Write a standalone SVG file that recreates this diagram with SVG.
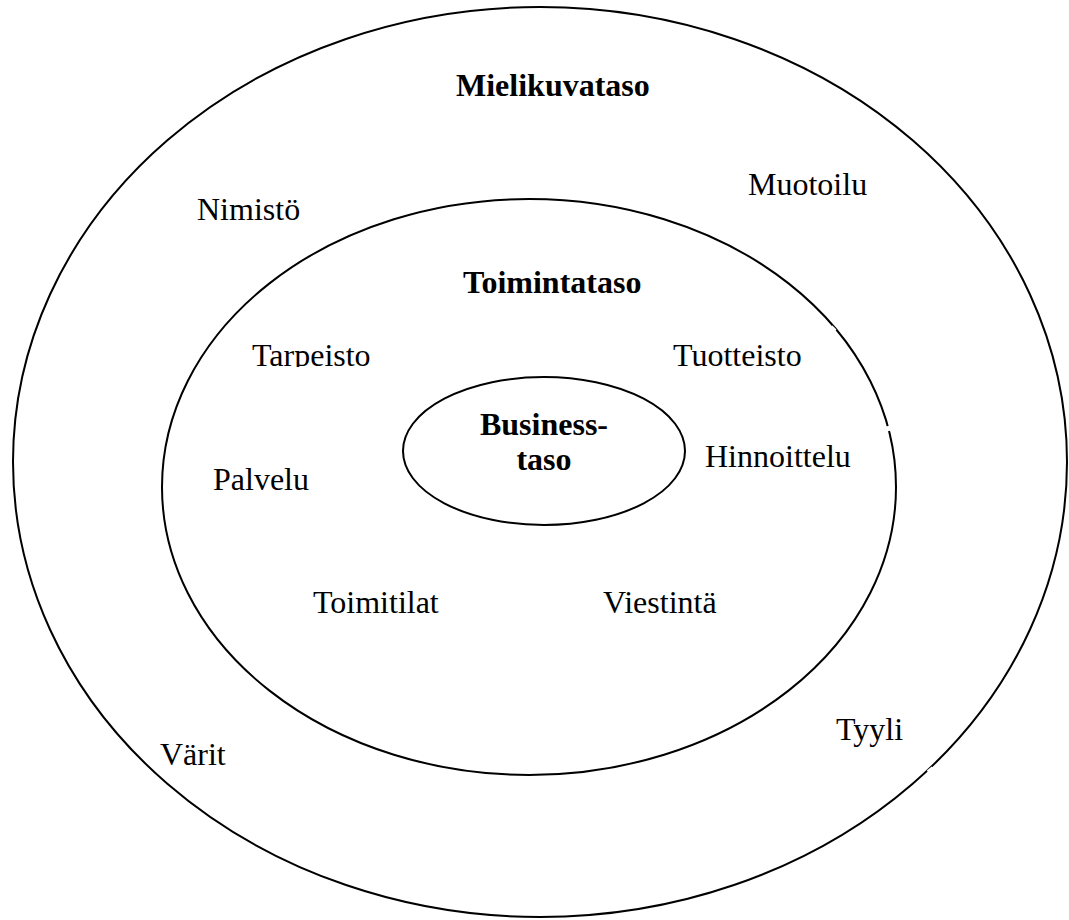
<svg xmlns="http://www.w3.org/2000/svg" width="1069" height="920" viewBox="0 0 1069 920">
<style>
.e{fill:none;stroke:#000;stroke-width:2}
.t{font-family:"Liberation Serif","Times New Roman",serif;font-size:32px;fill:#000}
.b{font-weight:bold}
.g{stroke:#fff;stroke-width:4}
</style>
<defs>
<clipPath id="clipTar"><rect x="240" y="330" width="180" height="37"/></clipPath>
</defs>
<rect width="1069" height="920" fill="#fff"/>
<g id="outer">
<ellipse class="e" cx="540" cy="462" rx="527" ry="455"/>
<text class="t b" x="456" y="96">Mielikuvataso</text>
<text class="t" x="197" y="220">Nimistö</text>
<text class="t" x="748" y="195">Muotoilu</text>
<text class="t" x="836" y="740">Tyyli</text>
<text class="t" x="160" y="765">Värit</text>
</g>
<g id="middle">
<ellipse class="e" cx="529" cy="487" rx="367" ry="288"/>
<text class="t b" x="463" y="293">Toimintataso</text>
<text class="t" x="252" y="366" clip-path="url(#clipTar)">Tarpeisto</text>
<text class="t" x="673" y="366">Tuotteisto</text>
<text class="t" x="705" y="467">Hinnoittelu</text>
<text class="t" x="213" y="490">Palvelu</text>
<text class="t" x="313" y="613">Toimitilat</text>
<text class="t" x="603" y="613">Viestintä</text>
</g>
<g id="inner">
<ellipse class="e" cx="544" cy="451" rx="141" ry="74"/>
<text class="t b" x="544" y="435" text-anchor="middle">Business-</text>
<text class="t b" x="544" y="470" text-anchor="middle">taso</text>
</g>
<g id="gaps">
<line class="g" x1="831" y1="327" x2="835" y2="331"/>
<line class="g" x1="888" y1="426" x2="889" y2="431"/>
<line class="g" x1="928" y1="772" x2="933" y2="768"/>
</g>
</svg>
